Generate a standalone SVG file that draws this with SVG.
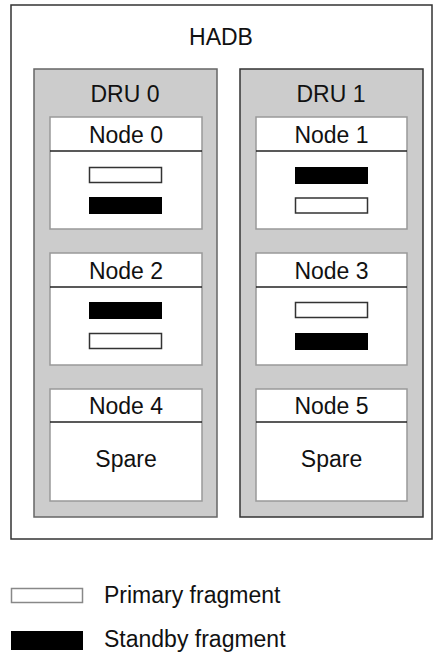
<svg xmlns="http://www.w3.org/2000/svg" width="437" height="653" viewBox="0 0 437 653">
<style>
text{font-family:"Liberation Sans",Arial,sans-serif;font-size:23px;fill:#111;text-anchor:middle}
.outer{fill:#fff;stroke:#333;stroke-width:1.5}
.dru{fill:#cccccc;stroke:#444;stroke-width:1.5}
.node{fill:#fff;stroke:#999;stroke-width:1.5}
.hdr{stroke:#222;stroke-width:1.5}
.prim{fill:#fff;stroke:#333;stroke-width:1.5}
.stby{fill:#000;stroke:#000;stroke-width:1}
</style>
<g id="hadb">
<rect class="outer" x="11" y="5" width="421" height="534"/>
<text x="221" y="45">HADB</text>
</g>
<g id="dru0">
<rect class="dru" x="34" y="69" width="183" height="448" style="stroke:#666"/>
<text x="125" y="102">DRU 0</text>
</g>
<g id="dru1">
<rect class="dru" x="240" y="69" width="183" height="448" style="stroke:#333"/>
<text x="331" y="102">DRU 1</text>
</g>
<g id="node0">
<rect class="node" x="50" y="117" width="152" height="112"/>
<line class="hdr" x1="50" y1="151" x2="202" y2="151"/>
<text x="126" y="143">Node 0</text>
<rect class="prim" x="89.5" y="167.5" width="72" height="15"/>
<rect class="stby" x="89.5" y="197.5" width="72" height="16"/>
</g>
<g id="node1">
<rect class="node" x="256" y="117" width="151" height="112"/>
<line class="hdr" x1="256" y1="151" x2="407" y2="151"/>
<text x="331.5" y="143">Node 1</text>
<rect class="stby" x="295.5" y="167.5" width="72" height="16"/>
<rect class="prim" x="295.5" y="198" width="72" height="15"/>
</g>
<g id="node2">
<rect class="node" x="50" y="253" width="152" height="112"/>
<line class="hdr" x1="50" y1="287" x2="202" y2="287"/>
<text x="126" y="279">Node 2</text>
<rect class="stby" x="89.5" y="302.5" width="72" height="16"/>
<rect class="prim" x="89.5" y="333.5" width="72" height="15"/>
</g>
<g id="node3">
<rect class="node" x="256" y="253" width="151" height="112"/>
<line class="hdr" x1="256" y1="287" x2="407" y2="287"/>
<text x="331.5" y="279">Node 3</text>
<rect class="prim" x="295.5" y="302.5" width="72" height="15"/>
<rect class="stby" x="295.5" y="333.5" width="72" height="16"/>
</g>
<g id="node4">
<rect class="node" x="50" y="389" width="152" height="112"/>
<line class="hdr" x1="50" y1="422" x2="202" y2="422"/>
<text x="126" y="414">Node 4</text>
<text x="126" y="467">Spare</text>
</g>
<g id="node5">
<rect class="node" x="256" y="389" width="151" height="112"/>
<line class="hdr" x1="256" y1="422" x2="407" y2="422"/>
<text x="331.5" y="414">Node 5</text>
<text x="331.5" y="467">Spare</text>
</g>
<g id="connectors"></g>
<g id="legend">
<rect x="11.5" y="588.5" width="71" height="14" fill="#fff" stroke="#888" stroke-width="1.5"/>
<text x="104" y="603" style="text-anchor:start">Primary fragment</text>
<rect x="11" y="631" width="72" height="19" fill="#000"/>
<text x="104" y="647" style="text-anchor:start">Standby fragment</text>
</g>
</svg>
